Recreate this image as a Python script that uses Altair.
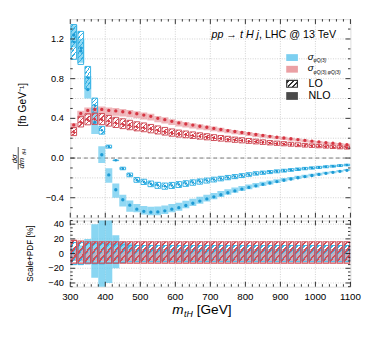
import altair as alt
import pandas as pd

# ---------------- data ----------------
bin_lo = list(range(300, 1100, 20))  # 40 bins of 20 GeV

blue_lo = [1.17, 1.11, 0.81, 0.53, 0.28, 0.115, -0.023, -0.105, -0.17, -0.22,
           -0.24, -0.26, -0.275, -0.283, -0.276, -0.267, -0.257, -0.247, -0.237, -0.227,
           -0.217, -0.207, -0.197, -0.187, -0.177, -0.166, -0.155, -0.148, -0.141, -0.134,
           -0.127, -0.120, -0.113, -0.106, -0.100, -0.094, -0.088, -0.082, -0.076, -0.070]
blue_nlo = [1.24, 1.08, 0.69, 0.36, 0.033, -0.17, -0.32, -0.42, -0.475, -0.515,
            -0.537, -0.545, -0.543, -0.532, -0.515, -0.500, -0.478, -0.456, -0.434, -0.412,
            -0.391, -0.370, -0.350, -0.331, -0.313, -0.296, -0.280, -0.265, -0.251, -0.237,
            -0.224, -0.211, -0.199, -0.187, -0.176, -0.165, -0.154, -0.144, -0.134, -0.124]
red_lo = [0.26, 0.36, 0.385, 0.39, 0.387, 0.37, 0.354, 0.341, 0.328, 0.315,
          0.305, 0.292, 0.279, 0.266, 0.253, 0.243, 0.235, 0.227, 0.219, 0.211,
          0.203, 0.196, 0.189, 0.182, 0.176, 0.170, 0.164, 0.158, 0.152, 0.147,
          0.142, 0.137, 0.132, 0.127, 0.123, 0.119, 0.115, 0.111, 0.107, 0.104]
red_nlo = [0.334, 0.45, 0.48, 0.49, 0.49, 0.48, 0.475, 0.466, 0.456, 0.446,
           0.433, 0.42, 0.40, 0.387, 0.37, 0.354, 0.343, 0.332, 0.321, 0.310,
           0.299, 0.288, 0.277, 0.267, 0.257, 0.247, 0.237, 0.228, 0.219, 0.210,
           0.202, 0.194, 0.186, 0.178, 0.170, 0.163, 0.156, 0.149, 0.142, 0.135]

# relative scale+PDF uncertainties in %
blue_lo_up = [15, 15, 14, 14, 14, 13, 13, 12] + [11] * 32
blue_lo_dn = [-15, -15, -14, -14, -14, -13, -13, -12] + [-11] * 32
red_lo_up = [18, 17] + [16] * 38
red_lo_dn = [-13] * 40
blue_nlo_up = [8, 11, 20, 40, 260, 47, 25, 16, 14] + [6] * 31
blue_nlo_dn = [-10, -11, -13, -33, -250, -40, -20, -12, -10] + [-10] * 31
red_nlo_up = [6] * 40
red_nlo_dn = [-10] * 40

x_labels = [300, 400, 500, 600, 700, 800, 900, 1000, 1100]
x_label_text = ["300", "400", "500", "600", "700", "800", "900", "1000", "1100"]
x_minor = [v for v in range(300, 1101, 20) if v % 100 != 0]
y1_labels = [-0.4, 0.0, 0.4, 0.8, 1.2]
y1_label_text = ["−0.4", "0.0", "0.4", "0.8", "1.2"]
y1_grid = [-0.4, -0.2, 0.0, 0.2, 0.4, 0.6, 0.8, 1.0, 1.2]
y1_minor = [round(-0.5 + 0.1 * i, 1) for i in range(19) if round(-0.5 + 0.1 * i, 1) not in y1_labels]
y2_labels = [-40, -20, 0, 20, 40]
y2_label_text = ["−40", "−20", "0", "20", "40"]
y2_minor = [v for v in range(-45, 46, 5) if v not in y2_labels]

# ---------------- helpers ----------------
W, H1, H2 = 288, 204, 68
FONT = "Liberation Sans"
BLUE_FILL, BLUE_LINE, BLUE_DOT = "#62c8ee", "#36b2e4", "#1d9ad4"
RED_FILL, RED_LINE, RED_DOT = "#e8979c", "#cf4e58", "#d63542"
CLEAR = "rgba(255,255,255,0)"

xs = alt.Scale(domain=[300, 1100], nice=False, zero=False)
ys1 = alt.Scale(domain=[-0.6, 1.4], nice=False, zero=False)
ys2 = alt.Scale(domain=[-45, 45], nice=False, zero=False)


def frame(v, up, dn):
    rows = []
    for b, val, u, d in zip(bin_lo, v, up, dn):
        a, c = val * (1 + u / 100), val * (1 + d / 100)
        rows.append(dict(x0=b, x1=b + 20, xc=b + 10, v=val, lo=min(a, c), hi=max(a, c),
                         rlo=min(u, d), rhi=max(u, d), span=abs(a - c)))
    return pd.DataFrame(rows)


def hatch(color, n, dx=1.0, dy=1.0, w=0.3):
    stops = []
    for k in range(n):
        a = k / n
        c = a + 0.5 / n
        h = w / n / 2
        stops += [alt.GradientStop(color=CLEAR, offset=a),
                  alt.GradientStop(color=CLEAR, offset=c - h),
                  alt.GradientStop(color=color, offset=c - h),
                  alt.GradientStop(color=color, offset=c + h),
                  alt.GradientStop(color=CLEAR, offset=c + h)]
    stops.append(alt.GradientStop(color=CLEAR, offset=1))
    return alt.LinearGradient(gradient="linear", stops=stops, x1=0, y1=0, x2=dx, y2=dy)


bl, bn = frame(blue_lo, blue_lo_up, blue_lo_dn), frame(blue_nlo, blue_nlo_up, blue_nlo_dn)
rl, rn = frame(red_lo, red_lo_up, red_lo_dn), frame(red_nlo, red_nlo_up, red_nlo_dn)

X0 = alt.X("x0:Q", scale=xs, axis=None)
X1 = alt.X2("x1:Q")
XC = alt.X("xc:Q", scale=xs, axis=None)
one = pd.DataFrame({"a": [1]})


def xgrid(H):
    return alt.Chart(pd.DataFrame({"g": x_labels[1:-1]})).mark_rule(
        color="#c4c4c4", strokeDash=[1, 1.5], strokeWidth=0.8).encode(
        x=alt.X("g:Q", scale=xs, axis=None), y=alt.value(0), y2=alt.value(H))


def ygrid(vals, ys):
    return alt.Chart(pd.DataFrame({"g": vals})).mark_rule(
        color="#c4c4c4", strokeDash=[1, 1.5], strokeWidth=0.8).encode(
        y=alt.Y("g:Q", scale=ys, axis=None), x=alt.value(0), x2=alt.value(W))


def xticks(vals, L, H):
    d = pd.DataFrame({"t": vals})
    base = alt.Chart(d).mark_rule(color="black", strokeWidth=0.8)
    xx = alt.X("t:Q", scale=xs, axis=None)
    return [base.encode(x=xx, y=alt.value(H), y2=alt.value(H - L)),
            base.encode(x=xx, y=alt.value(0), y2=alt.value(L))]


def yticks(vals, L, ys):
    d = pd.DataFrame({"t": vals})
    base = alt.Chart(d).mark_rule(color="black", strokeWidth=0.8)
    yy = alt.Y("t:Q", scale=ys, axis=None)
    return [base.encode(y=yy, x=alt.value(0), x2=alt.value(L)),
            base.encode(y=yy, x=alt.value(W), x2=alt.value(W - L))]


def ylabels(vals, texts, ys):
    d = pd.DataFrame({"t": vals, "s": texts})
    return alt.Chart(d).mark_text(align="right", baseline="middle", fontSize=9.5, font=FONT,
                                  color="black").encode(
        y=alt.Y("t:Q", scale=ys, axis=None), x=alt.value(-6.5), text="s:N")


def txt(s, x, y, size, angle=0, align="center", italic=False, color="black", baseline="middle"):
    kw = dict(fontSize=size, align=align, baseline=baseline, font=FONT, color=color)
    if angle:
        kw["angle"] = angle
    if italic:
        kw["fontStyle"] = "italic"
    return alt.Chart(one).mark_text(text=s, **kw).encode(x=alt.value(x), y=alt.value(y))


def box(x0, x1, y0, y1, **kw):
    return alt.Chart(one).mark_rect(**kw).encode(
        x=alt.value(x0), x2=alt.value(x1), y=alt.value(y0), y2=alt.value(y1))


def lo_boxes(df, ys, lo, hi, color, cond, n, dx, sw=1.0):
    c = alt.Chart(df)
    if cond:
        c = c.transform_filter(cond)
    return c.mark_rect(fill=hatch(color, n, dx, 1.0), stroke=color, strokeWidth=sw,
                       xOffset=0.7, x2Offset=-0.7, clip=True).encode(
        x=X0, x2=X1, y=alt.Y(lo, scale=ys, axis=None), y2=hi)


# ---------------- main panel ----------------
main_layers = [
    xgrid(H1),
    ygrid(y1_grid, ys1),
    alt.Chart(pd.DataFrame({"z": [0.0]})).mark_rule(color="#7a7a7a", strokeDash=[4, 3], strokeWidth=1).encode(
        y=alt.Y("z:Q", scale=ys1, axis=None), x=alt.value(0), x2=alt.value(W)),
    alt.Chart(bn).mark_rect(fill=BLUE_FILL, opacity=0.7, clip=True).encode(
        x=X0, x2=X1, y=alt.Y("lo:Q", scale=ys1, axis=None), y2="hi:Q"),
    alt.Chart(rn).mark_rect(fill=RED_FILL, opacity=0.7, clip=True).encode(
        x=X0, x2=X1, y=alt.Y("lo:Q", scale=ys1, axis=None), y2="hi:Q"),
    lo_boxes(bl, ys1, "lo:Q", "hi:Q", BLUE_LINE, "datum.span > 0.3", 7, 0.2),
    lo_boxes(bl, ys1, "lo:Q", "hi:Q", BLUE_LINE, "datum.span > 0.12 && datum.span <= 0.3", 5, 0.35),
    lo_boxes(bl, ys1, "lo:Q", "hi:Q", BLUE_LINE, "datum.span <= 0.12", 2, 1.0),
    lo_boxes(rl, ys1, "lo:Q", "hi:Q", RED_LINE, None, 3, 0.5),
    alt.Chart(bn).mark_circle(color=BLUE_DOT, size=12, opacity=1, clip=True).encode(
        x=XC, y=alt.Y("v:Q", scale=ys1, axis=None)),
    alt.Chart(rn).mark_circle(color=RED_DOT, size=12, opacity=1, clip=True).encode(
        x=XC, y=alt.Y("v:Q", scale=ys1, axis=None)),
    alt.Chart(bl).mark_circle(color=BLUE_DOT, size=7, opacity=1, clip=True).encode(
        x=XC, y=alt.Y("v:Q", scale=ys1, axis=None)),
    alt.Chart(rl).mark_circle(color=RED_DOT, size=7, opacity=1, clip=True).encode(
        x=XC, y=alt.Y("v:Q", scale=ys1, axis=None)),
    ylabels(y1_labels, y1_label_text, ys1),
]
main_layers += xticks(x_labels, 5, H1) + xticks(x_minor, 2.5, H1)
main_layers += yticks(y1_labels, 5, ys1) + yticks(y1_minor, 2.5, ys1)

# title
main_layers += [
    txt("pp → t H j", 194, 16, 11, align="right", italic=True),
    txt(", LHC @ 13 TeV", 194, 16, 11, align="left"),
]
# legend
main_layers += [
    box(222, 234, 36, 43, fill="#7ccff0"),
    box(222, 234, 48, 55, fill="#eba0a4"),
    box(222.5, 233.5, 63, 70, fill=hatch("#333333", 3, 1.0, 0.6), stroke="#333333", strokeWidth=1.2),
    box(222, 234, 75, 83, fill="#4a4a4a"),
    txt("σ", 244, 38.5, 10, align="left", italic=True),
    txt("φQ(3)", 250, 42, 5, align="left", italic=True),
    txt("σ", 244, 50.5, 10, align="left", italic=True),
    txt("φQ(3),φQ(3)", 250, 54, 5, align="left", italic=True),
    txt("LO", 245, 67, 11, align="left"),
    txt("NLO", 245, 79.5, 11, align="left"),
]
# y-axis title (fraction + unit)
main_layers += [
    txt("[fb GeV⁻¹]", -48, 88, 10.5, angle=270),
    txt("dσ", -57, 143.5, 8, angle=270, italic=True),
    alt.Chart(one).mark_rule(color="black", strokeWidth=0.7).encode(
        x=alt.value(-53.5), y=alt.value(131.5), y2=alt.value(154.5)),
    txt("dm", -49.5, 148, 8, angle=270, italic=True),
    txt("tH", -48, 136.5, 6, angle=270, italic=True),
]

main = alt.layer(*main_layers).properties(width=W, height=H1)

# ---------------- ratio panel ----------------
ratio_layers = [
    xgrid(H2),
    ygrid(y2_labels, ys2),
    alt.Chart(bn).mark_rect(fill=BLUE_FILL, opacity=0.75, clip=True).encode(
        x=X0, x2=X1, y=alt.Y("rlo:Q", scale=ys2, axis=None), y2="rhi:Q"),
    alt.Chart(rn).mark_rect(fill=RED_FILL, opacity=0.55, clip=True).encode(
        x=X0, x2=X1, y=alt.Y("rlo:Q", scale=ys2, axis=None), y2="rhi:Q"),
    lo_boxes(bl, ys2, "rlo:Q", "rhi:Q", BLUE_LINE, None, 3, 0.35),
    lo_boxes(rl, ys2, "rlo:Q", "rhi:Q", RED_LINE, None, 3, 0.33, 1.1),
    ylabels(y2_labels, y2_label_text, ys2),
    alt.Chart(pd.DataFrame({"t": x_labels, "s": x_label_text})).mark_text(
        align="center", baseline="top", fontSize=10, font=FONT, color="black").encode(
        x=alt.X("t:Q", scale=xs, axis=None), y=alt.value(H2 + 5.5), text="s:N"),
]
ratio_layers += xticks(x_labels, 5, H2) + xticks(x_minor, 2.5, H2)
ratio_layers += yticks(y2_labels, 5, ys2) + yticks(y2_minor, 2.5, ys2)
ratio_layers += [
    txt("Scale+PDF [%]", -41, 34, 8.5, angle=270),
    txt("m", 116.5, 92, 14, align="right", italic=True),
    txt("tH", 117, 96, 9, align="left", italic=True),
    txt("[GeV]", 130, 92, 14, align="left"),
]
ratio = alt.layer(*ratio_layers).properties(width=W, height=H2)

chart = alt.vconcat(main, ratio, spacing=0).properties(
    padding={"left": 2, "top": 6, "right": 4, "bottom": 2}
).configure_view(stroke="black", strokeWidth=1.1).configure(font=FONT)

chart.save("out.html", embed_options={"renderer": "svg", "actions": False})
